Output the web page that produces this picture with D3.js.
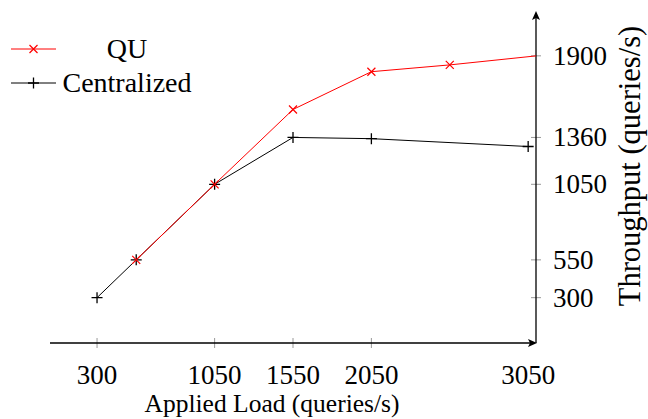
<!DOCTYPE html>
<html><head><meta charset="utf-8">
<script src="https://cdn.jsdelivr.net/npm/d3@7"></script>
<style>
html,body{margin:0;padding:0;background:#fff;}
svg{display:block;}
</style></head>
<body><svg id="c" width="648" height="419"></svg>
<script>
const xTicks = [300, 1050, 1550, 2050, 3050];
const yTicks = [300, 550, 1050, 1360, 1900];
const quLoad = [550, 1050, 1550, 2050, 2550, 3150];
const quThroughput = [550, 1050, 1545, 1795, 1840, 1905];
const centralLoad = [300, 550, 1050, 1550, 2050, 3050];
const centralThroughput = [300, 550, 1050, 1360, 1352, 1300];
const seriesNames = ["QU", "Centralized"];
const xLabel = "Applied Load (queries/s)";
const yLabel = "Throughput (queries/s)";

const FONT = '"Liberation Serif"';
const svg = d3.select("#c");
const x = d3.scaleLinear().domain([0, 3100]).range([50, 536]);
const y = d3.scaleLinear().domain([0, 2190]).range([343, 12]);

svg.append("defs").append("clipPath").attr("id","clip")
  .append("rect").attr("x",x(0)-10).attr("y",y(2190)).attr("width",x(3100)-x(0)+10).attr("height",y(0)-y(2190)+10);

const g = svg.append("g");
g.selectAll(".xt").data(xTicks.filter(d=>d<3050)).join("line")
  .attr("x1",d=>x(d)).attr("x2",d=>x(d)).attr("y1",y(0)-5).attr("y2",y(0)+5)
  .attr("stroke","#999").attr("stroke-width",1);
g.selectAll(".yt").data(yTicks).join("line")
  .attr("x1",x(3100)-5).attr("x2",x(3100)+5).attr("y1",d=>y(d)).attr("y2",d=>y(d))
  .attr("stroke","#999").attr("stroke-width",1);

svg.append("line").attr("x1",x(0)).attr("x2",x(3100)-4).attr("y1",y(0)).attr("y2",y(0))
  .attr("stroke","#000").attr("stroke-width",1.3);
svg.append("line").attr("x1",x(3100)).attr("x2",x(3100)).attr("y1",y(0)).attr("y2",y(2190)+4)
  .attr("stroke","#000").attr("stroke-width",1.3);
const ax = x(3100), ay = y(0);
svg.append("path").attr("d",`M${ax+1},${ay} L${ax-8},${ay-4} L${ax-6},${ay} L${ax-8},${ay+4} Z`).attr("fill","#000");
const ty = y(2190);
svg.append("path").attr("d",`M${ax},${ty-1} L${ax-4},${ty+8} L${ax},${ty+6} L${ax+4},${ty+8} Z`).attr("fill","#000");

function txt(sel, fs){ return sel.style("font-family",FONT).style("font-size",fs+"px").attr("fill","#000"); }

txt(svg.selectAll(".xl").data(xTicks).join("text")
  .attr("x",d=>x(d)).attr("y",384).attr("text-anchor","middle"), 27).text(d=>d);
txt(svg.selectAll(".yl").data(yTicks).join("text")
  .attr("x",553).attr("y",d=>y(d)+9).attr("text-anchor","start"), 27).text(d=>d);

txt(svg.append("text").attr("x",272).attr("y",412).attr("text-anchor","middle"), 25.5).text(xLabel);
txt(svg.append("text").attr("transform","translate(640,166) rotate(-90)").attr("text-anchor","middle"), 30.5).text(yLabel);

const line = d3.line().x(d=>x(d[0])).y(d=>y(d[1]));
const qu = quLoad.map((d,i)=>[d, quThroughput[i]]);
const ce = centralLoad.map((d,i)=>[d, centralThroughput[i]]);
const plot = svg.append("g").attr("clip-path","url(#clip)");

function cross(sel, px, py, color){
  const s=4;
  sel.append("path").attr("d",`M${px-s},${py-s}L${px+s},${py+s}M${px-s},${py+s}L${px+s},${py-s}`)
    .attr("stroke",color).attr("stroke-width",1.2).attr("fill","none");
}
function plus(sel, px, py, color){
  const s=5.5;
  sel.append("path").attr("d",`M${px-s},${py}L${px+s},${py}M${px},${py-s}L${px},${py+s}`)
    .attr("stroke",color).attr("stroke-width",1.3).attr("fill","none");
}

plot.append("path").datum(ce).attr("d",line).attr("fill","none").attr("stroke","#000").attr("stroke-width",1);
plot.append("path").datum(qu).attr("d",line).attr("fill","none").attr("stroke","#f00").attr("stroke-width",1);
ce.forEach(d=>plus(plot, x(d[0]), y(d[1]), "#000"));
qu.forEach(d=>{ if (d[0] <= 3100) cross(plot, x(d[0]), y(d[1]), "#f00"); });

const leg = svg.append("g");
const rows = [{name:seriesNames[0], color:"#f00", mk:cross, yy:49},
              {name:seriesNames[1], color:"#000", mk:plus, yy:83}];
rows.forEach(r=>{
  leg.append("line").attr("x1",11).attr("x2",56).attr("y1",r.yy).attr("y2",r.yy)
    .attr("stroke",r.color).attr("stroke-width",1);
  r.mk(leg, 33.5, r.yy, r.color);
  txt(leg.append("text").attr("x",127).attr("y",r.yy+9).attr("text-anchor","middle"), 28).text(r.name);
});
</script></body></html>
